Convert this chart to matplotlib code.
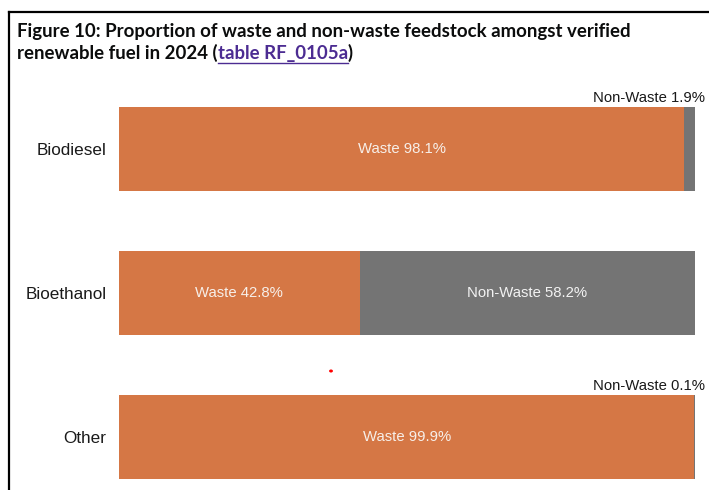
import matplotlib
matplotlib.use("Agg")
import matplotlib.pyplot as plt
from matplotlib.lines import Line2D
from matplotlib.patches import Circle

# data
fuels = ["Biodiesel", "Bioethanol", "Other"]
waste = [98.1, 41.8, 99.9]
non_waste = [1.9, 58.2, 0.1]
waste_labels = ["Waste 98.1%", "Waste 42.8%", "Waste 99.9%"]
non_waste_labels = ["Non-Waste 1.9%", "Non-Waste 58.2%", "Non-Waste 0.1%"]

orange = "#d57745"
grey = "#747474"
W, H = 709, 490

fig = plt.figure(figsize=(W / 100, H / 100), dpi=100)
fig.patch.set_facecolor("white")

# axes placed in pixel terms: x 119..695, first bar centre at y=149, spacing 144
left, right = 119 / W, 695 / W
top_px = 77
ax = fig.add_axes([left, 0, right - left, (H - top_px) / H])
ax.set_xlim(0, 100)
ax.set_ylim(2 + (H - 437) / 144, -0.5)

ypos = list(range(len(fuels)))
bh = 84 / 144
ax.barh(ypos, waste, height=bh, color=orange, edgecolor="none")
ax.barh(ypos, non_waste, left=waste, height=bh, color=grey, edgecolor="none")

font = ["Liberation Sans", "DejaVu Sans"]
for i in ypos:
    # waste label in the middle of its segment
    ax.text(waste[i] / 2, i, waste_labels[i], ha="center", va="center",
            color="#f7efe9", fontsize=10.7, family=font)
    if non_waste[i] > 10:
        ax.text(waste[i] + non_waste[i] / 2, i, non_waste_labels[i], ha="center",
                va="center", color="#f2f2f2", fontsize=10.7, family=font)
    else:
        ax.annotate(non_waste_labels[i], xy=(100, i - bh / 2), xytext=(7, 1.5),
                    textcoords="offset points", ha="right", va="bottom",
                    color="#1a1a1a", fontsize=10.7, family=font, annotation_clip=False)

ax.set_yticks(ypos)
ax.set_yticklabels(fuels, fontsize=12.3, family=font, color="#1a1a1a")
ax.tick_params(axis="y", length=0, pad=9)
ax.set_xticks([])
for s in ax.spines.values():
    s.set_visible(False)

# frame on left and top
fig.add_artist(Line2D([8.5 / W, 8.5 / W], [0, 1 - 12 / H], color="black", lw=1.6))
fig.add_artist(Line2D([8.5 / W, 1], [1 - 12 / H, 1 - 12 / H], color="black", lw=1.6))

# title with link text
tfont = ["Lato", "DejaVu Sans"]
tsize = 13.4
fig.text(17 / W, 1 - 37 / H, "Figure 10: Proportion of waste and non-waste feedstock amongst verified",
         fontsize=tsize, fontweight="bold", family=tfont, color="#0b0c0c", va="baseline")
t1 = fig.text(17 / W, 1 - 59 / H, "renewable fuel in 2024 (", fontsize=tsize,
              fontweight="bold", family=tfont, color="#0b0c0c", va="baseline")
fig.canvas.draw()
r = fig.canvas.get_renderer()
bb1 = t1.get_window_extent(r)
t2 = fig.text(bb1.x1 / W, 1 - 59 / H, "table RF_0105a", fontsize=tsize, fontweight="bold",
              family=tfont, color="#4c2c92", va="baseline")
bb2 = t2.get_window_extent(r)
fig.text(bb2.x1 / W, 1 - 59 / H, ")", fontsize=tsize, fontweight="bold",
         family=tfont, color="#0b0c0c", va="baseline")
fig.add_artist(Line2D([bb2.x0 / W, bb2.x1 / W], [1 - 63 / H, 1 - 63 / H], color="#4c2c92", lw=1))

# stray red dot in the original
fig.add_artist(Circle((331 / W, 1 - 371 / H), 1.2 / W, color="red", transform=fig.transFigure))

fig.savefig("out.png", dpi=100)
